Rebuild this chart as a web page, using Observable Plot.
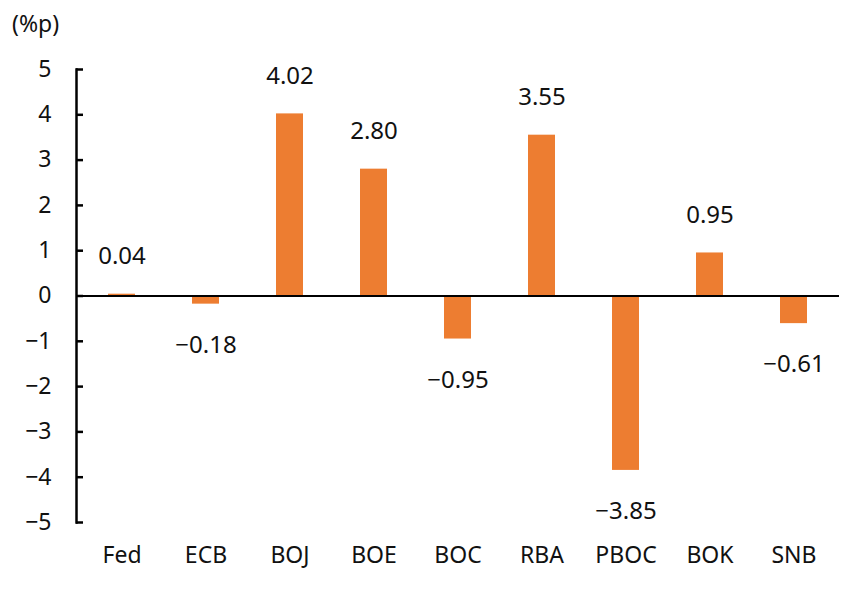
<!DOCTYPE html>
<html>
<head>
<meta charset="utf-8">
<script src="https://cdn.jsdelivr.net/npm/d3@7"></script>
<script src="https://cdn.jsdelivr.net/npm/@observablehq/plot@0.6"></script>
<style>
  html, body { margin: 0; padding: 0; background: #fff; }
  #wrap { position: relative; width: 845px; height: 590px; font-family: "Noto Sans", sans-serif; }
  #unit { position: absolute; left: 12px; top: 7px; font-size: 23px; color: #111; }
  #chart { position: absolute; left: 0; top: 0; }
</style>
</head>
<body>
<div id="wrap">
  <div id="chart"></div>
  <div id="unit">(%p)</div>
</div>
<script>
const banks = ["Fed", "ECB", "BOJ", "BOE", "BOC", "RBA", "PBOC", "BOK", "SNB"];
const changes = [0.04, -0.18, 4.02, 2.80, -0.95, 3.55, -3.85, 0.95, -0.61];
const yTicks = [5, 4, 3, 2, 1, 0, -1, -2, -3, -4, -5];

const data = banks.map((b, i) => ({bank: b, value: changes[i]}));
const fmt = d3.format(".2f");
const fmtTick = d3.format("d");

const chart = Plot.plot({
  width: 845,
  height: 590,
  marginLeft: 76,
  marginRight: 6,
  marginTop: 69,
  marginBottom: 68,
  style: {fontFamily: "Noto Sans, sans-serif", fontSize: "23px", color: "#111", background: "transparent"},
  x: {domain: banks, paddingInner: 0.68, paddingOuter: 0.34, align: 0.5, label: null},
  y: {domain: [-5, 5], label: null},
  marks: [
    Plot.barY(data, {x: "bank", y: "value", fill: "#ED7D31"}),
    Plot.ruleY([0], {stroke: "#000", strokeWidth: 2}),
    Plot.frame({anchor: "left", stroke: "#000", strokeWidth: 2.5}),
    Plot.axisY(yTicks, {anchor: "left", tickSize: 7, dx: 7, text: null, stroke: "#000", strokeWidth: 2.5, label: null}),
    Plot.axisY(yTicks, {anchor: "left", tickSize: 0, tickPadding: 25, tickFormat: fmtTick, fontSize: 23, label: null}),
    Plot.axisX({anchor: "bottom", tickSize: 0, tickPadding: 24, fontSize: 23, label: null}),
    Plot.text(data.filter(d => d.value >= 0), {x: "bank", y: "value", text: d => fmt(d.value), dy: -38, fontSize: 24}),
    Plot.text(data.filter(d => d.value < 0), {x: "bank", y: "value", text: d => fmt(d.value), dy: 41, fontSize: 24})
  ]
});
document.getElementById("chart").appendChild(chart);
</script>
</body>
</html>
